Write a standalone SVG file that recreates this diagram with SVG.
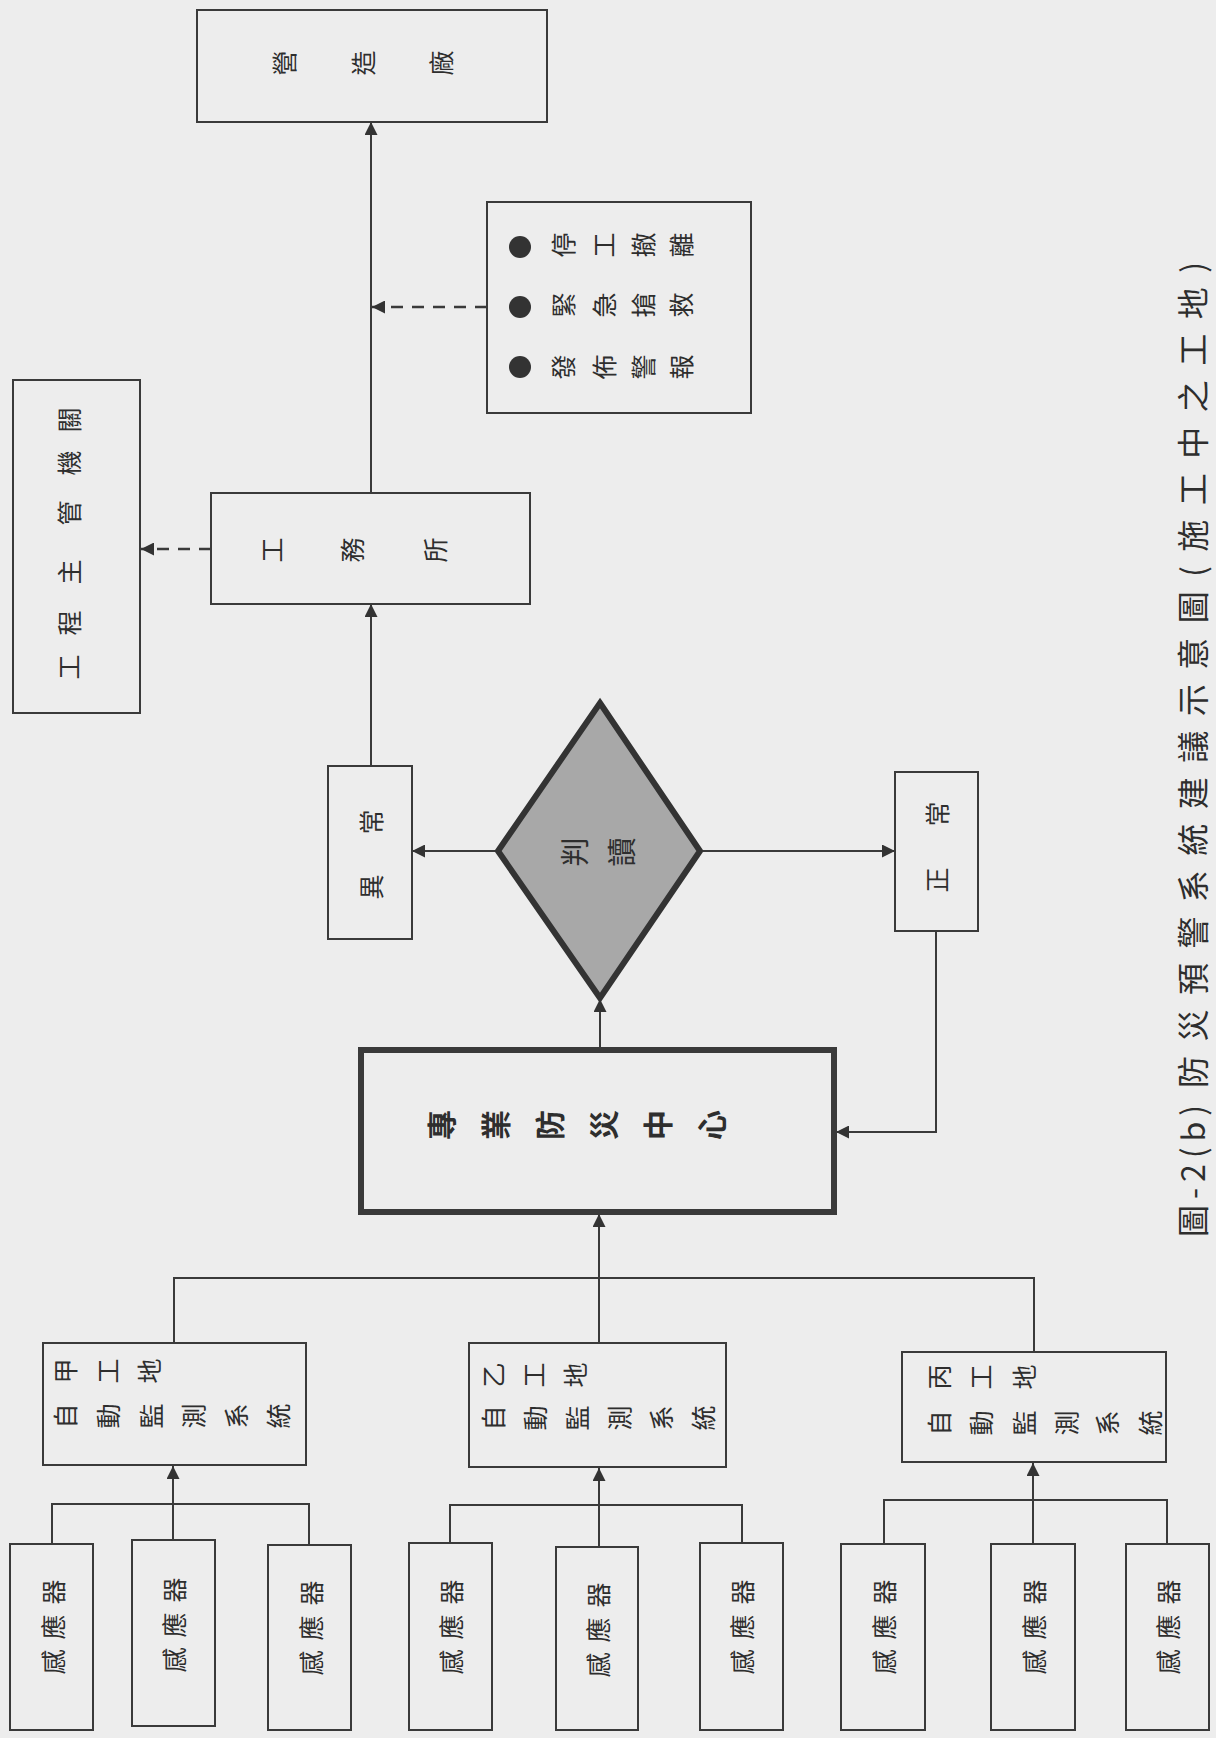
<svg xmlns="http://www.w3.org/2000/svg" width="1216" height="1738" viewBox="0 0 1216 1738">
<defs>
<marker id="ah" viewBox="0 0 10 10" refX="10" refY="5" markerWidth="15" markerHeight="13" markerUnits="userSpaceOnUse" orient="auto">
<path d="M0,0 L10,5 L0,10 z" fill="#333"/>
</marker>
<style>
.box{fill:none;stroke:#3a3a3a;stroke-width:2}
.thick{fill:none;stroke:#3a3a3a;stroke-width:6}
.ln{fill:none;stroke:#3a3a3a;stroke-width:2}
.dash{fill:none;stroke:#3a3a3a;stroke-width:2.5;stroke-dasharray:12 9}
text{font-family:"Noto Sans CJK TC","Noto Sans CJK SC",sans-serif;font-size:25px;fill:#2e2e2e;text-anchor:middle;dominant-baseline:central}
.big{font-size:30px;font-weight:bold}
.mid{font-size:29px}
.cap{font-size:32px;text-anchor:start}
</style>
</defs>
<rect width="1216" height="1738" fill="#ededed"/>

<g id="connectors">
<path class="ln" d="M371,493 V122" marker-end="url(#ah)"/>
<path class="dash" d="M487,307 H372" marker-end="url(#ah)"/>
<path class="ln" d="M371,766 V604" marker-end="url(#ah)"/>
<path class="dash" d="M211,549 H141" marker-end="url(#ah)"/>
<path class="ln" d="M498,851 H412" marker-end="url(#ah)"/>
<path class="ln" d="M700,851 H895" marker-end="url(#ah)"/>
<path class="ln" d="M936,931 V1132 H836" marker-end="url(#ah)"/>
<path class="ln" d="M600,1050 V999" marker-end="url(#ah)"/>
<path class="ln" d="M599,1343 V1214" marker-end="url(#ah)"/>
<path class="ln" d="M174,1343 V1278 H1034 V1352"/>
<path class="ln" d="M52,1544 V1504 H309 V1545"/>
<path class="ln" d="M173,1540 V1466" marker-end="url(#ah)"/>
<path class="ln" d="M450,1543 V1505 H742 V1543"/>
<path class="ln" d="M599,1547 V1468" marker-end="url(#ah)"/>
<path class="ln" d="M884,1544 V1500 H1167 V1544"/>
<path class="ln" d="M1033,1544 V1463" marker-end="url(#ah)"/>
</g>

<g id="n-yingzaochang">
<rect class="box" x="197" y="10" width="350" height="112"/>
<text x="283" y="63" transform="rotate(-90 283 63)">營</text>
<text x="362" y="63" transform="rotate(-90 362 63)">造</text>
<text x="440" y="63" transform="rotate(-90 440 63)">廠</text>
</g>

<g id="n-actions">
<rect class="box" x="487" y="202" width="264" height="211"/>
<circle cx="520" cy="247" r="11" fill="#333"/>
<circle cx="520" cy="307" r="11" fill="#333"/>
<circle cx="520" cy="367" r="11" fill="#333"/>
<text x="562" y="245" transform="rotate(-90 562 245)">停</text>
<text x="603" y="245" transform="rotate(-90 603 245)">工</text>
<text x="642" y="245" transform="rotate(-90 642 245)">撤</text>
<text x="680" y="245" transform="rotate(-90 680 245)">離</text>
<text x="562" y="305" transform="rotate(-90 562 305)">緊</text>
<text x="603" y="305" transform="rotate(-90 603 305)">急</text>
<text x="642" y="305" transform="rotate(-90 642 305)">搶</text>
<text x="680" y="305" transform="rotate(-90 680 305)">救</text>
<text x="562" y="367" transform="rotate(-90 562 367)">發</text>
<text x="603" y="367" transform="rotate(-90 603 367)">佈</text>
<text x="642" y="367" transform="rotate(-90 642 367)">警</text>
<text x="680" y="367" transform="rotate(-90 680 367)">報</text>
</g>

<g id="n-authority">
<rect class="box" x="13" y="380" width="127" height="333"/>
<text x="68" y="667" transform="rotate(-90 68 667)">工</text>
<text x="68" y="623" transform="rotate(-90 68 623)">程</text>
<text x="68" y="572" transform="rotate(-90 68 572)">主</text>
<text x="68" y="513" transform="rotate(-90 68 513)">管</text>
<text x="68" y="463" transform="rotate(-90 68 463)">機</text>
<text x="68" y="420" transform="rotate(-90 68 420)">關</text>
</g>

<g id="n-office">
<rect class="box" x="211" y="493" width="319" height="111"/>
<text x="271" y="550" transform="rotate(-90 271 550)">工</text>
<text x="351" y="550" transform="rotate(-90 351 550)">務</text>
<text x="434" y="550" transform="rotate(-90 434 550)">所</text>
</g>

<g id="n-abnormal">
<rect class="box" x="328" y="766" width="84" height="173"/>
<text x="370" y="822" transform="rotate(-90 370 822)">常</text>
<text x="370" y="887" transform="rotate(-90 370 887)">異</text>
</g>

<g id="n-judge">
<polygon points="600,703 700,851 600,998 498,851" fill="#a8a8a8" stroke="#333" stroke-width="6" stroke-linejoin="miter"/>
<text class="mid" x="573" y="852" transform="rotate(-90 573 852)">判</text>
<text class="mid" x="620" y="852" transform="rotate(-90 620 852)">讀</text>
</g>

<g id="n-normal">
<rect class="box" x="895" y="772" width="83" height="159"/>
<text x="936" y="814" transform="rotate(-90 936 814)">常</text>
<text x="936" y="880" transform="rotate(-90 936 880)">正</text>
</g>

<g id="n-center">
<rect class="thick" x="361" y="1050" width="473" height="162"/>
<text class="big" x="440" y="1125" transform="rotate(-90 440 1125)">專</text>
<text class="big" x="494" y="1125" transform="rotate(-90 494 1125)">業</text>
<text class="big" x="548" y="1125" transform="rotate(-90 548 1125)">防</text>
<text class="big" x="602" y="1125" transform="rotate(-90 602 1125)">災</text>
<text class="big" x="656" y="1125" transform="rotate(-90 656 1125)">中</text>
<text class="big" x="710" y="1125" transform="rotate(-90 710 1125)">心</text>
</g>

<g id="n-site-a">
<rect class="box" x="43" y="1343" width="263" height="122"/>
<text x="64" y="1371" transform="rotate(-90 64 1371)">甲</text>
<text x="107" y="1371" transform="rotate(-90 107 1371)">工</text>
<text x="148" y="1371" transform="rotate(-90 148 1371)">地</text>
<text x="64" y="1416" transform="rotate(-90 64 1416)">自</text>
<text x="107" y="1416" transform="rotate(-90 107 1416)">動</text>
<text x="150" y="1416" transform="rotate(-90 150 1416)">監</text>
<text x="192" y="1416" transform="rotate(-90 192 1416)">測</text>
<text x="235" y="1416" transform="rotate(-90 235 1416)">系</text>
<text x="277" y="1416" transform="rotate(-90 277 1416)">統</text>
</g>

<g id="n-site-b">
<rect class="box" x="469" y="1343" width="257" height="124"/>
<text x="492" y="1375" transform="rotate(-90 492 1375)">乙</text>
<text x="533" y="1375" transform="rotate(-90 533 1375)">工</text>
<text x="574" y="1375" transform="rotate(-90 574 1375)">地</text>
<text x="492" y="1418" transform="rotate(-90 492 1418)">自</text>
<text x="534" y="1418" transform="rotate(-90 534 1418)">動</text>
<text x="576" y="1418" transform="rotate(-90 576 1418)">監</text>
<text x="618" y="1418" transform="rotate(-90 618 1418)">測</text>
<text x="660" y="1418" transform="rotate(-90 660 1418)">系</text>
<text x="702" y="1418" transform="rotate(-90 702 1418)">統</text>
</g>

<g id="n-site-c">
<rect class="box" x="902" y="1352" width="264" height="110"/>
<text x="938" y="1377" transform="rotate(-90 938 1377)">丙</text>
<text x="980" y="1377" transform="rotate(-90 980 1377)">工</text>
<text x="1023" y="1377" transform="rotate(-90 1023 1377)">地</text>
<text x="938" y="1423" transform="rotate(-90 938 1423)">自</text>
<text x="980" y="1423" transform="rotate(-90 980 1423)">動</text>
<text x="1023" y="1423" transform="rotate(-90 1023 1423)">監</text>
<text x="1065" y="1423" transform="rotate(-90 1065 1423)">測</text>
<text x="1106" y="1423" transform="rotate(-90 1106 1423)">系</text>
<text x="1149" y="1423" transform="rotate(-90 1149 1423)">統</text>
</g>

<g id="n-s1"><rect class="box" x="10" y="1544" width="83" height="186"/>
<text x="52" y="1592" transform="rotate(-90 52 1592)">器</text><text x="52" y="1627" transform="rotate(-90 52 1627)">應</text><text x="52" y="1662" transform="rotate(-90 52 1662)">感</text></g>
<g id="n-s2"><rect class="box" x="132" y="1540" width="83" height="186"/>
<text x="173" y="1590" transform="rotate(-90 173 1590)">器</text><text x="173" y="1625" transform="rotate(-90 173 1625)">應</text><text x="173" y="1660" transform="rotate(-90 173 1660)">感</text></g>
<g id="n-s3"><rect class="box" x="268" y="1545" width="83" height="185"/>
<text x="310" y="1593" transform="rotate(-90 310 1593)">器</text><text x="310" y="1628" transform="rotate(-90 310 1628)">應</text><text x="310" y="1663" transform="rotate(-90 310 1663)">感</text></g>
<g id="n-s4"><rect class="box" x="409" y="1543" width="83" height="187"/>
<text x="450" y="1592" transform="rotate(-90 450 1592)">器</text><text x="450" y="1627" transform="rotate(-90 450 1627)">應</text><text x="450" y="1662" transform="rotate(-90 450 1662)">感</text></g>
<g id="n-s5"><rect class="box" x="556" y="1547" width="82" height="183"/>
<text x="597" y="1595" transform="rotate(-90 597 1595)">器</text><text x="597" y="1630" transform="rotate(-90 597 1630)">應</text><text x="597" y="1665" transform="rotate(-90 597 1665)">感</text></g>
<g id="n-s6"><rect class="box" x="700" y="1543" width="83" height="187"/>
<text x="741" y="1592" transform="rotate(-90 741 1592)">器</text><text x="741" y="1627" transform="rotate(-90 741 1627)">應</text><text x="741" y="1662" transform="rotate(-90 741 1662)">感</text></g>
<g id="n-s7"><rect class="box" x="841" y="1544" width="84" height="186"/>
<text x="883" y="1592" transform="rotate(-90 883 1592)">器</text><text x="883" y="1627" transform="rotate(-90 883 1627)">應</text><text x="883" y="1662" transform="rotate(-90 883 1662)">感</text></g>
<g id="n-s8"><rect class="box" x="991" y="1544" width="84" height="186"/>
<text x="1033" y="1592" transform="rotate(-90 1033 1592)">器</text><text x="1033" y="1627" transform="rotate(-90 1033 1627)">應</text><text x="1033" y="1662" transform="rotate(-90 1033 1662)">感</text></g>
<g id="n-s9"><rect class="box" x="1126" y="1544" width="83" height="186"/>
<text x="1167" y="1592" transform="rotate(-90 1167 1592)">器</text><text x="1167" y="1627" transform="rotate(-90 1167 1627)">應</text><text x="1167" y="1662" transform="rotate(-90 1167 1662)">感</text></g>

<g id="caption">
<text class="cap" x="1191" y="1237" transform="rotate(-90 1191 1237)" textLength="132" lengthAdjust="spacing">圖-2(b)</text>
<text class="cap" x="1191" y="1088" transform="rotate(-90 1191 1088)" textLength="826" lengthAdjust="spacing">防災預警系統建議示意圖(施工中之工地)</text>
</g>
</svg>
